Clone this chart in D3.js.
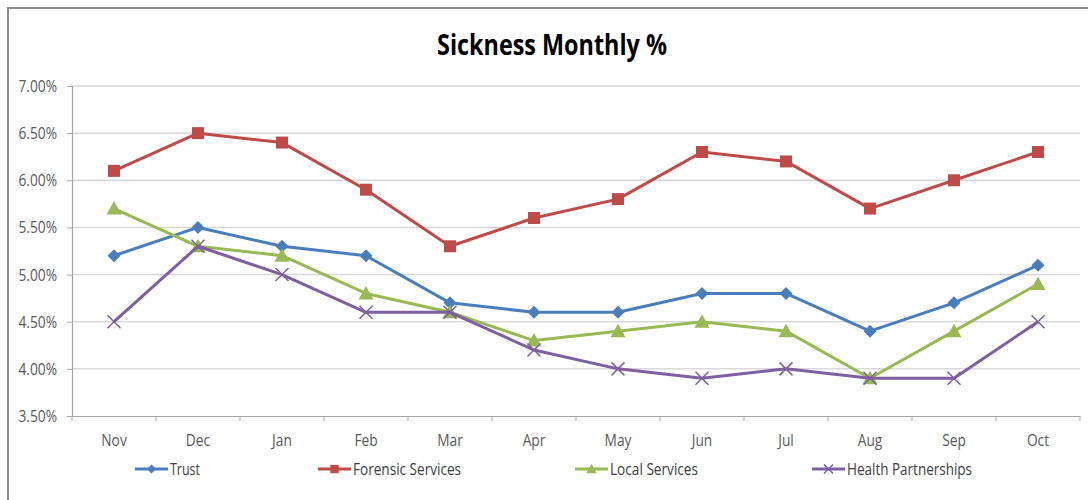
<!DOCTYPE html>
<html><head><meta charset="utf-8">
<script src="https://cdn.jsdelivr.net/npm/d3@7"></script>
<style>body{margin:0;background:#fff}svg{display:block}</style>
</head><body>
<svg id="c" width="1088" height="500"></svg>
<script>
const months = ["Nov","Dec","Jan","Feb","Mar","Apr","May","Jun","Jul","Aug","Sep","Oct"];
const trust =     [5.2,5.5,5.3,5.2,4.7,4.6,4.6,4.8,4.8,4.4,4.7,5.1];
const forensic =  [6.1,6.5,6.4,5.9,5.3,5.6,5.8,6.3,6.2,5.7,6.0,6.3];
const local =     [5.7,5.3,5.2,4.8,4.6,4.3,4.4,4.5,4.4,3.9,4.4,4.9];
const health =    [4.5,5.3,5.0,4.6,4.6,4.2,4.0,3.9,4.0,3.9,3.9,4.5];
const yTicks = [3.5,4.0,4.5,5.0,5.5,6.0,6.5,7.0];
const seriesNames = ["Trust","Forensic Services","Local Services","Health Partnerships"];

const series = [
  {name:seriesNames[0], values:trust, color:"#4a7ebb", marker:"diamond"},
  {name:seriesNames[1], values:forensic, color:"#be4b48", marker:"square"},
  {name:seriesNames[2], values:local, color:"#98b954", marker:"triangle"},
  {name:seriesNames[3], values:health, color:"#7d60a0", marker:"x"}
];

const svg = d3.select("#c");
const font = "'Open Sans',sans-serif";
const SX = 0.86; // horizontal condensation to mimic a narrow face
// outer border
svg.append("rect").attr("x",8).attr("y",8).attr("width",1100).attr("height",520)
  .attr("fill","none").attr("stroke","#8c8c8c").attr("stroke-width",2);

const L=72, R=1080, T=86, B=416;
const x = d3.scaleBand().domain(months).range([L,R]);
const y = d3.scaleLinear().domain([3.5,7.0]).range([B,T]);

// gridlines
svg.append("g").selectAll("line").data(yTicks.filter(d=>d>3.5)).join("line")
  .attr("x1",L).attr("x2",R).attr("y1",d=>y(d)).attr("y2",d=>y(d))
  .attr("stroke","#d9d9d9").attr("stroke-width",1.5);

// y axis
const yAxis = svg.append("g").attr("transform",`translate(${L},0)`)
  .call(d3.axisLeft(y).tickValues(yTicks).tickFormat(d=>d.toFixed(2)+"%").tickSize(5).tickPadding(0));
yAxis.select(".domain").attr("stroke","#a6a6a6").attr("stroke-width",1.2);
yAxis.selectAll(".tick line").attr("stroke","#a6a6a6");
yAxis.selectAll("text").attr("font-family",font).attr("font-size",16).attr("fill","#595959")
  .attr("x",-15/SX).attr("dy","0.34em").attr("transform",`scale(${SX},1)`);

// x axis
const xAxis = svg.append("g").attr("transform",`translate(0,${B})`)
  .call(d3.axisBottom(x).tickSize(0).tickPadding(0));
xAxis.select(".domain").attr("stroke","#a6a6a6").attr("stroke-width",1.2);
xAxis.selectAll(".tick").each(function(){
  const t = d3.select(this);
  const tx = +t.attr("transform").match(/translate\(([-\d.]+)/)[1];
  t.attr("transform",`translate(${tx},0) scale(${SX},1)`);
});
xAxis.selectAll("text").attr("font-family",font).attr("font-size",16).attr("fill","#595959")
  .attr("y",30).attr("dy",0);
// tick marks at band boundaries
xAxis.append("g").selectAll("line").data(months.map(m=>x(m)).concat([R])).join("line")
  .attr("x1",d=>d).attr("x2",d=>d).attr("y1",0).attr("y2",5).attr("stroke","#a6a6a6");

function marker(g, type, color, f){
  f = f || 1;
  if(type==="diamond"){
    const s=6.5*f;
    g.append("path").attr("d",`M0,${-s}L${s},0L0,${s}L${-s},0Z`).attr("fill",color);
  } else if(type==="square"){
    const s=6*f;
    g.append("rect").attr("x",-s).attr("y",-s).attr("width",2*s).attr("height",2*s).attr("fill",color);
  } else if(type==="triangle"){
    const s=7.5*f;
    g.append("path").attr("d",`M0,${-s}L${s},${s*0.8}L${-s},${s*0.8}Z`).attr("fill",color);
  } else {
    const k=6.5*f;
    g.append("path").attr("d",`M${-k},${-k}L${k},${k}M${-k},${k}L${k},${-k}`).attr("stroke",color).attr("stroke-width",1.5).attr("fill","none");
  }
}

const line = d3.line().x((d,i)=>x(months[i])+x.bandwidth()/2).y(d=>y(d));
series.forEach(s=>{
  svg.append("path").datum(s.values).attr("d",line).attr("fill","none")
    .attr("stroke",s.color).attr("stroke-width",3).attr("stroke-linejoin","round");
  s.values.forEach((v,i)=>{
    const g = svg.append("g").attr("transform",`translate(${x(months[i])+x.bandwidth()/2},${y(v)})`);
    marker(g, s.marker, s.color);
  });
});

// title
svg.append("text").attr("x",552).attr("y",55).attr("text-anchor","middle")
  .attr("textLength",230).attr("lengthAdjust","spacingAndGlyphs")
  .attr("font-family","'Open Sans',sans-serif").attr("font-weight","bold").attr("font-size",28)
  .attr("fill","#000").text("Sickness Monthly %");

// legend
const legX = [135,318,575,812];
const legW = [30,108,88,125];
series.forEach((s,i)=>{
  const g = svg.append("g").attr("transform",`translate(${legX[i]},469)`);
  g.append("line").attr("x1",0).attr("x2",33).attr("y1",0).attr("y2",0).attr("stroke",s.color).attr("stroke-width",3);
  const m = g.append("g").attr("transform","translate(16.5,0)");
  marker(m, s.marker, s.color, 0.7);
  g.append("text").attr("x",35).attr("y",6).attr("font-family",font).attr("font-size",16)
    .attr("textLength",legW[i]).attr("lengthAdjust","spacingAndGlyphs")
    .attr("fill","#404040").text(s.name);
});
</script>
</body></html>
